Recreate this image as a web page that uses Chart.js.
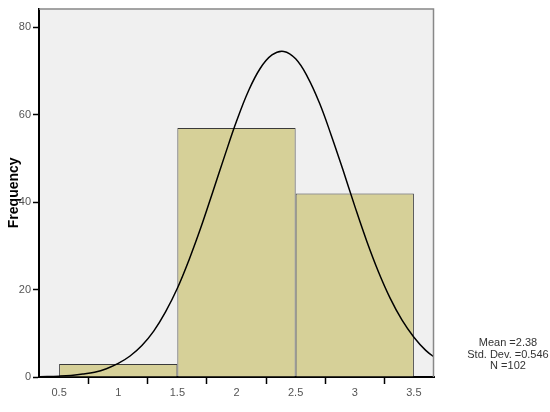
<!DOCTYPE html>
<html>
<head>
<meta charset="utf-8">
<script src="https://cdn.jsdelivr.net/npm/chart.js@4/dist/chart.umd.min.js"></script>
<style>
html,body{margin:0;padding:0;background:#fff;}
#wrap{width:550px;height:412px;position:relative;}
</style>
</head>
<body>
<div id="wrap"><canvas id="c" width="550" height="412"></canvas></div>
<script>
// Histogram bins (bin centres) and frequencies
const binCenters = [1, 2, 3];
const frequencies = [3, 57, 42];
// Normal curve
const curveX = [0.3,0.4,0.5,0.6,0.7,0.8,0.9,1.0,1.1,1.2,1.3,1.4,1.5,1.6,1.7,1.8,1.9,2.0,2.1,2.2,2.3,2.4,2.5,2.6,2.7,2.8,2.9,3.0,3.1,3.2,3.3,3.4,3.5,3.6,3.7];
const curveY = [0.05,0.1,0.2,0.37,0.66,1.1,1.9,3.1,4.8,7.2,10.5,14.9,20.3,26.9,34.3,42.4,50.6,58.5,65.4,70.6,73.7,74.5,72.8,68.7,62.8,55.4,47.4,39.1,31.2,24.1,18.0,13.0,9.1,6.1,4.0];
const statsLines = ["Mean =2.38", "Std. Dev. =0.546", "N =102"];
const yTitle = "Frequency";

const bgPlugin = {
  id: 'bgPlugin',
  beforeDraw(chart) {
    const {ctx, chartArea: a} = chart;
    ctx.save();
    ctx.fillStyle = '#f0f0f0';
    ctx.fillRect(a.left, a.top, a.right - a.left, a.bottom - a.top);
    ctx.restore();
  },
  afterDraw(chart) {
    const {ctx, chartArea: a} = chart;
    ctx.save();
    ctx.strokeStyle = '#888';
    ctx.lineWidth = 1.5;
    ctx.beginPath();
    ctx.moveTo(a.left, a.top + 0.5);
    ctx.lineTo(a.right - 0.5, a.top + 0.5);
    ctx.lineTo(a.right - 0.5, a.bottom);
    ctx.stroke();
    ctx.fillStyle = '#333';
    ctx.font = '11px "Liberation Sans", Arial, sans-serif';
    ctx.textAlign = 'center';
    ctx.textBaseline = 'middle';
    statsLines.forEach((t, i) => ctx.fillText(t, 508, 343 + i * 11.5));
    ctx.restore();
  }
};

new Chart(document.getElementById('c'), {
  type: 'bar',
  data: {
    datasets: [
      {
        type: 'line',
        data: curveX.map((x, i) => ({x: x, y: curveY[i]})),
        borderColor: '#000',
        borderWidth: 1.5,
        pointRadius: 0,
        tension: 0.4,
        fill: false,
        order: 0
      },
      {
        type: 'bar',
        data: binCenters.map((x, i) => ({x: x, y: frequencies[i]})),
        backgroundColor: '#d6d098',
        borderColor: '#3a3a3a',
        borderWidth: 1,
        barPercentage: 2,
        categoryPercentage: 1,
        order: 1
      }
    ]
  },
  options: {
    responsive: false,
    animation: false,
    layout: {padding: {left: 0, right: 116, top: 5, bottom: 0}},
    plugins: {legend: {display: false}, tooltip: {enabled: false}},
    scales: {
      x: {
        type: 'linear',
        min: 0.33,
        max: 3.67,
        offset: false,
        border: {color: '#000', width: 2},
        grid: {drawOnChartArea: false, drawTicks: true, tickLength: 7, color: '#000', tickWidth: 1.5},
        ticks: {stepSize: 0.5, includeBounds: false, color: '#555', padding: 2, maxRotation: 0,
                callback: v => String(+Number(v).toFixed(2)),
                font: {family: '"Liberation Sans", Arial, sans-serif', size: 11}},
        afterFit(s) { s.height = 35; }
      },
      y: {
        type: 'linear',
        min: 0,
        max: 84.3,
        border: {color: '#000', width: 2},
        grid: {drawOnChartArea: false, drawTicks: true, tickLength: 6, color: '#000', tickWidth: 1.5},
        ticks: {stepSize: 20, includeBounds: false, color: '#555', padding: 2,
                font: {family: '"Liberation Sans", Arial, sans-serif', size: 11}},
        title: {display: true, text: yTitle, color: '#000', padding: {top: 6, bottom: 0},
                font: {family: '"Liberation Sans", Arial, sans-serif', size: 14, weight: 'bold'}},
        afterFit(s) { s.width = 39; }
      }
    }
  },
  plugins: [bgPlugin]
});
</script>
</body>
</html>
